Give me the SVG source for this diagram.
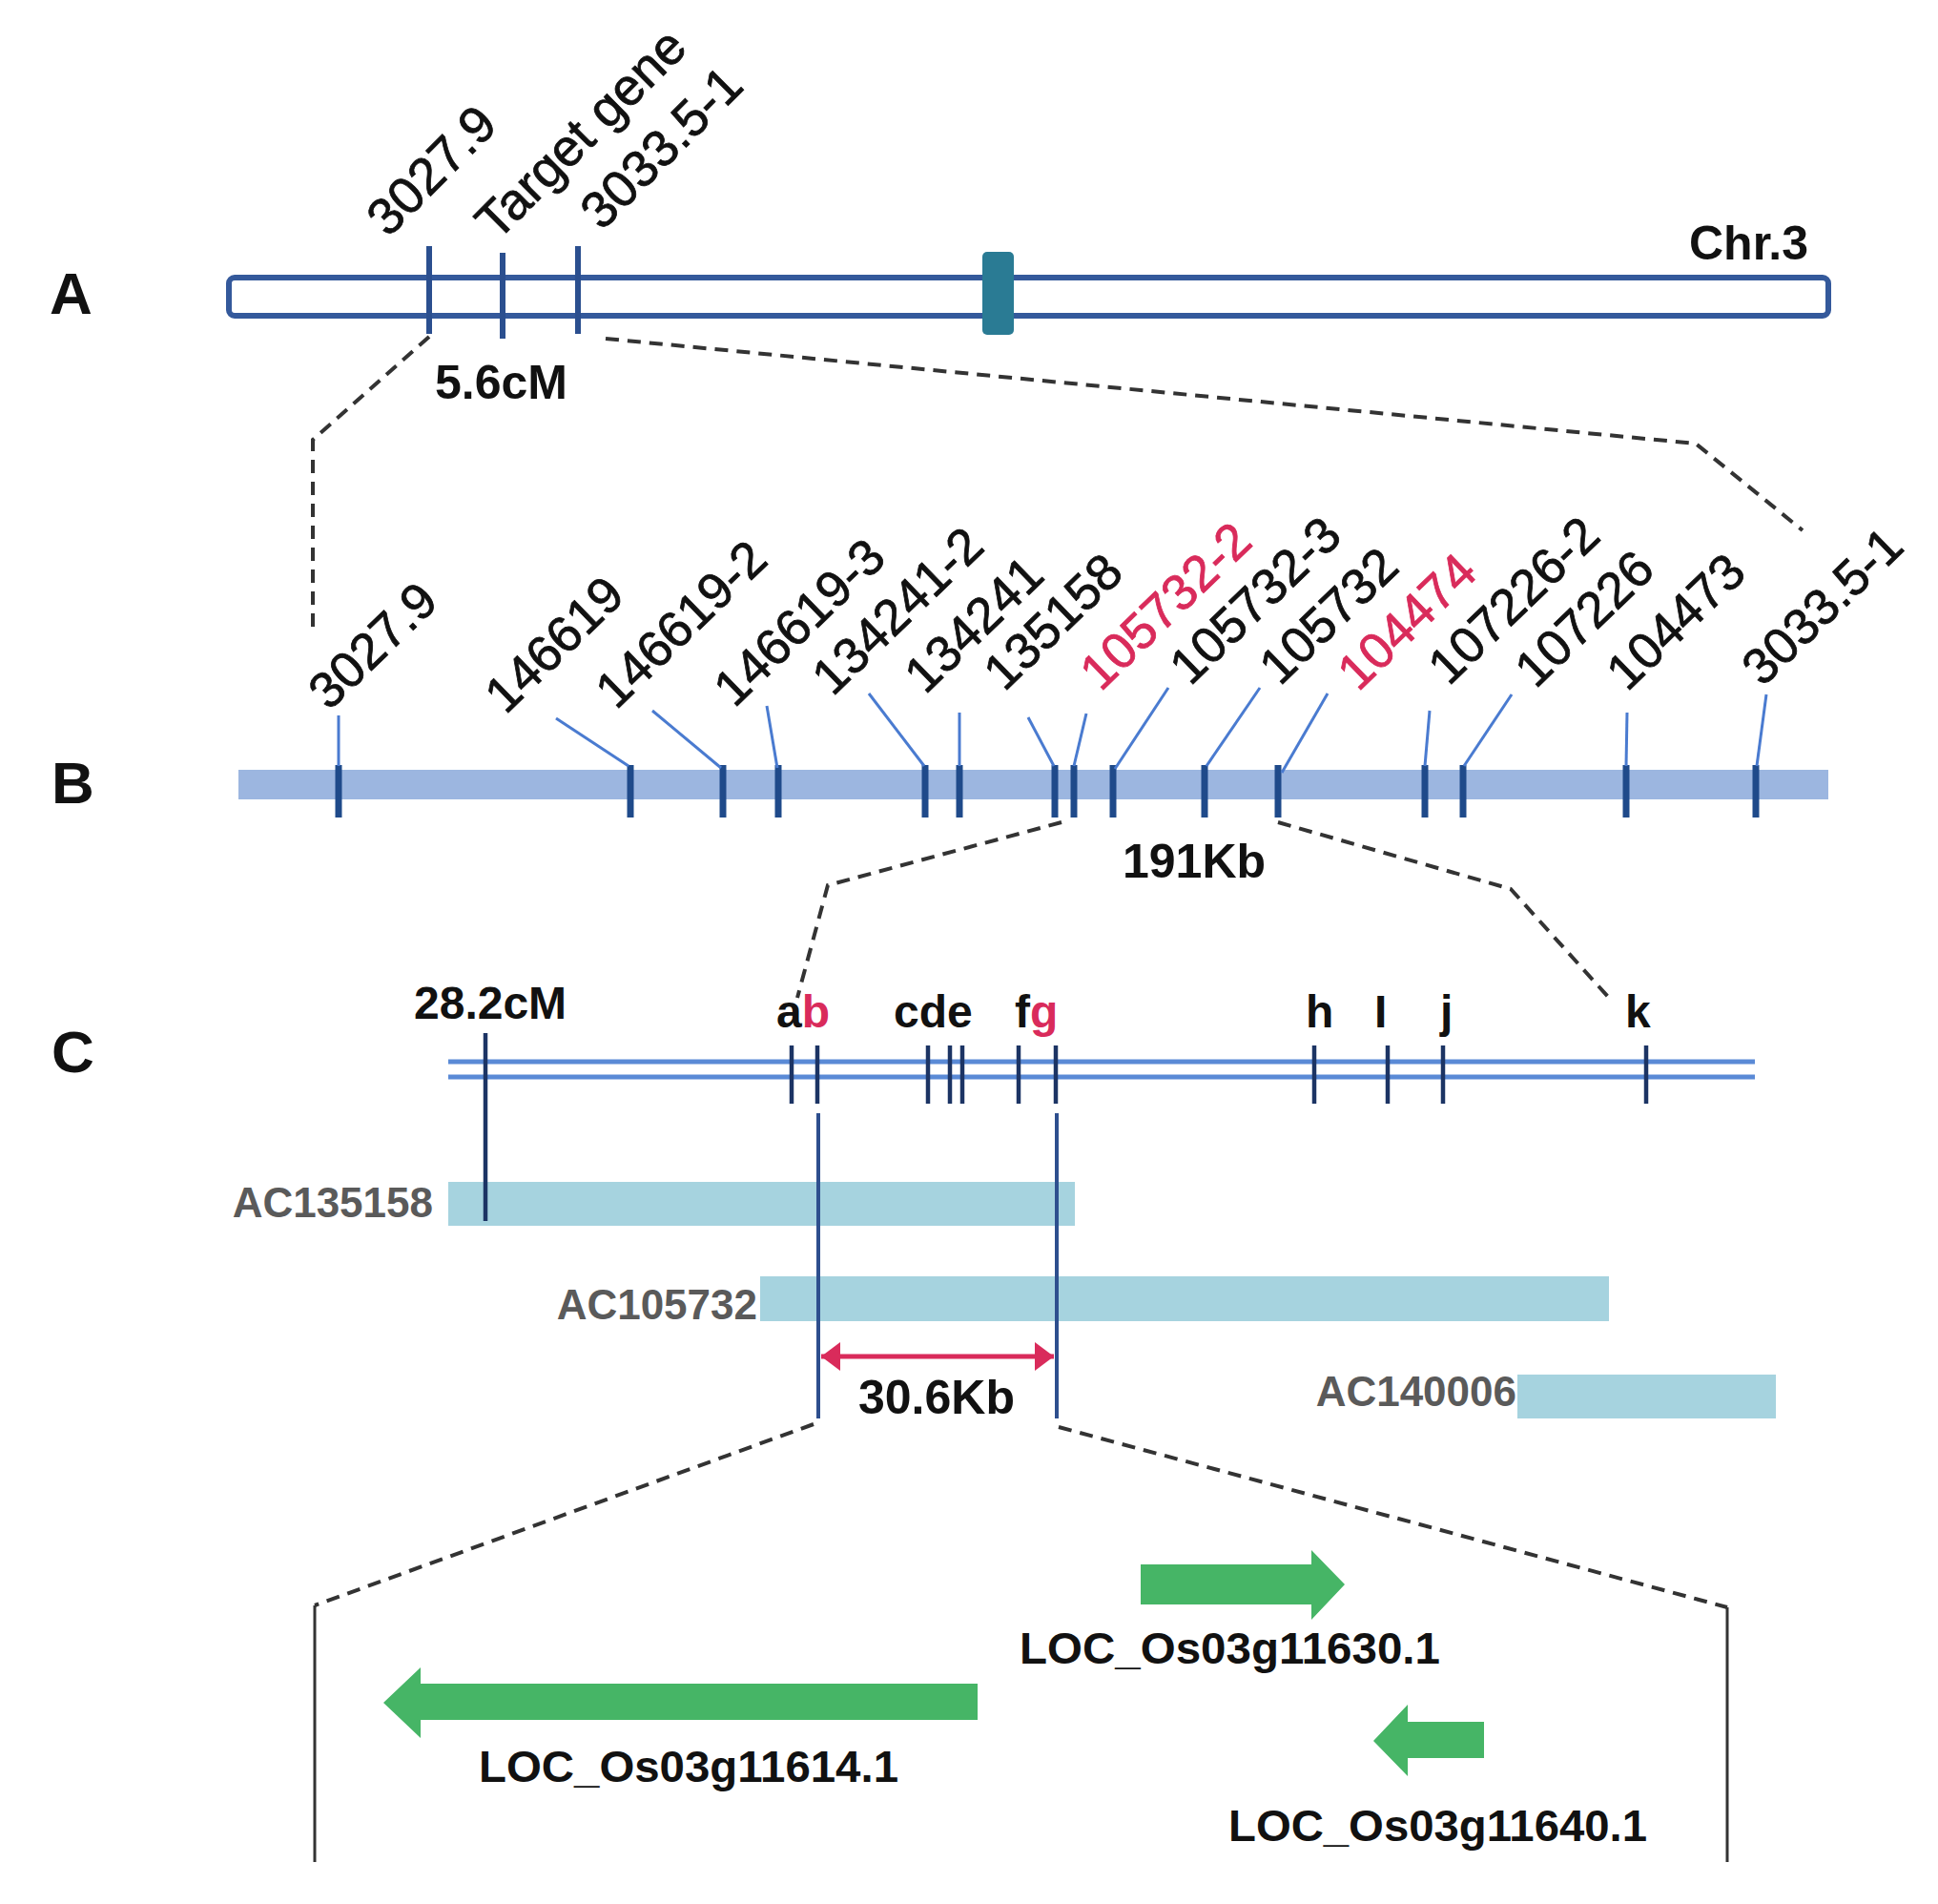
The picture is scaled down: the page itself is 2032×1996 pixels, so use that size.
<svg xmlns="http://www.w3.org/2000/svg" width="2032" height="1996" viewBox="0 0 2032 1996">
<style>
  .panel { font-family: "Liberation Sans", Arial, sans-serif; font-weight: bold; font-size: 62px; fill: #111; }
  .bold { font-family: "Liberation Sans", Arial, sans-serif; font-weight: bold; fill: #111; }
  .lab { font-family: "Liberation Sans", Arial, sans-serif; font-size: 53px; fill: #111; stroke: #111; stroke-width: 0.8; }
  .labA { font-family: "Liberation Sans", Arial, sans-serif; font-size: 54px; fill: #111; stroke: #111; stroke-width: 0.8; }
  .red { fill: #D92B5B; stroke: #D92B5B; }
  .redf { fill: #D92B5B; }
  .ac { font-family: "Liberation Sans", Arial, sans-serif; font-weight: bold; font-size: 44px; fill: #5a5a5a; text-anchor: end; }
  .loc { font-family: "Liberation Sans", Arial, sans-serif; font-weight: bold; font-size: 46px; fill: #111; }
  .dash { fill: none; stroke: #333; stroke-width: 4; stroke-dasharray: 14 9; }
  .solid { fill: none; stroke: #333; stroke-width: 3; }
  .tickA { stroke: #2B4F8F; stroke-width: 6; }
  .tickB { stroke: #1F4A8A; stroke-width: 7; }
  .leader { stroke: #4A7BD0; stroke-width: 3; fill: none; }
  .tickC { stroke: #1C3464; stroke-width: 4.5; }
  .longC { stroke: #2E4F8E; stroke-width: 4; }
  .cline { stroke: #5A8AD6; stroke-width: 5; }
  .acbar { fill: #A6D3DF; }
  .gene { fill: #46B566; }
</style>
<defs>
  <marker id="redhead" viewBox="0 0 4 6" refX="4" refY="3" markerWidth="4" markerHeight="6" markerUnits="strokeWidth" orient="auto-start-reverse">
    <path d="M0,0 L4,3 L0,6 Z" fill="#D92B5B"/>
  </marker>
</defs>
<rect width="2032" height="1996" fill="#fff"/>

<!-- Panel A -->
<g id="panelA">
  <text class="panel" x="52" y="329">A</text>
  <rect id="chr3" x="240" y="291" width="1677" height="40" rx="6" fill="#fff" stroke="#34599B" stroke-width="6"/>
  <rect id="centromere" x="1030" y="264" width="33" height="87" rx="5" fill="#2A7B94"/>
  <line class="tickA" x1="450" y1="258" x2="450" y2="350"/>
  <line class="tickA" x1="527" y1="265" x2="527" y2="355"/>
  <line class="tickA" x1="606" y1="258" x2="606" y2="350"/>
  <text class="labA" transform="translate(407,250) rotate(-45)">3027.9</text>
  <text class="labA" transform="translate(521,254) rotate(-45)">Target gene</text>
  <text class="labA" transform="translate(631,243) rotate(-45)">3033.5-1</text>
  <text class="bold" x="1771" y="272" font-size="50">Chr.3</text>
  <text class="bold" x="456" y="418" font-size="50">5.6cM</text>
</g>

<!-- Panel B -->
<g id="panelB">
  <text class="panel" x="54" y="842">B</text>
  <rect id="barB" x="250" y="807" width="1667" height="31" fill="#9CB6E0"/>
  <g id="ticksB">
    <line class="tickB" x1="355" y1="802" x2="355" y2="857"/>
    <line class="tickB" x1="661" y1="802" x2="661" y2="857"/>
    <line class="tickB" x1="758" y1="802" x2="758" y2="857"/>
    <line class="tickB" x1="816" y1="802" x2="816" y2="857"/>
    <line class="tickB" x1="970" y1="802" x2="970" y2="857"/>
    <line class="tickB" x1="1006" y1="802" x2="1006" y2="857"/>
    <line class="tickB" x1="1106" y1="802" x2="1106" y2="857"/>
    <line class="tickB" x1="1126" y1="802" x2="1126" y2="857"/>
    <line class="tickB" x1="1167" y1="802" x2="1167" y2="857"/>
    <line class="tickB" x1="1263" y1="802" x2="1263" y2="857"/>
    <line class="tickB" x1="1340" y1="802" x2="1340" y2="857"/>
    <line class="tickB" x1="1494" y1="802" x2="1494" y2="857"/>
    <line class="tickB" x1="1534" y1="802" x2="1534" y2="857"/>
    <line class="tickB" x1="1705" y1="802" x2="1705" y2="857"/>
    <line class="tickB" x1="1841" y1="802" x2="1841" y2="857"/>
  </g>
  <g id="labelsB">
    <text class="lab" transform="translate(345,746) rotate(-44)">3027.9</text>
    <text class="lab" transform="translate(530,750) rotate(-44)">146619</text>
    <text class="lab" transform="translate(646,745) rotate(-44)">146619-2</text>
    <text class="lab" transform="translate(770,743) rotate(-44)">146619-3</text>
    <text class="lab" transform="translate(873,731) rotate(-44)">134241-2</text>
    <text class="lab" transform="translate(970,729) rotate(-44)">134241</text>
    <text class="lab" transform="translate(1053,726) rotate(-44)">135158</text>
    <text class="lab red" transform="translate(1154,726) rotate(-44)">105732-2</text>
    <text class="lab" transform="translate(1248,720) rotate(-44)">105732-3</text>
    <text class="lab" transform="translate(1342,720) rotate(-44)">105732</text>
    <text class="lab red" transform="translate(1424,726) rotate(-44)">104474</text>
    <text class="lab" transform="translate(1519,720) rotate(-44)">107226-2</text>
    <text class="lab" transform="translate(1610,723) rotate(-44)">107226</text>
    <text class="lab" transform="translate(1706,726) rotate(-44)">104473</text>
    <text class="lab" transform="translate(1848,721) rotate(-44)">3033.5-1</text>
  </g>
  <text class="bold" x="1177" y="920" font-size="50">191Kb</text>
</g>

<!-- Panel C -->
<g id="panelC">
  <text class="panel" x="54" y="1124">C</text>
  <line class="cline" x1="470" y1="1113" x2="1840" y2="1113"/>
  <line class="cline" x1="470" y1="1129" x2="1840" y2="1129"/>
  <rect id="AC135158" class="acbar" x="470" y="1239" width="657" height="46"/>
  <rect id="AC105732" class="acbar" x="797" y="1338" width="890" height="47"/>
  <rect id="AC140006" class="acbar" x="1591" y="1441" width="271" height="46"/>
  <text class="ac" x="454" y="1276">AC135158</text>
  <text class="ac" x="794" y="1383">AC105732</text>
  <text class="ac" x="1590" y="1474">AC140006</text>
  <line class="tickC" x1="509" y1="1083" x2="509" y2="1280"/>
  <line class="tickC" x1="830" y1="1096" x2="830" y2="1157"/>
  <line class="tickC" x1="857" y1="1096" x2="857" y2="1157"/>
  <line class="tickC" x1="973" y1="1096" x2="973" y2="1157"/>
  <line class="tickC" x1="996" y1="1096" x2="996" y2="1157"/>
  <line class="tickC" x1="1009" y1="1096" x2="1009" y2="1157"/>
  <line class="tickC" x1="1068" y1="1096" x2="1068" y2="1157"/>
  <line class="tickC" x1="1107" y1="1096" x2="1107" y2="1157"/>
  <line class="tickC" x1="1378" y1="1096" x2="1378" y2="1157"/>
  <line class="tickC" x1="1455" y1="1096" x2="1455" y2="1157"/>
  <line class="tickC" x1="1513" y1="1096" x2="1513" y2="1157"/>
  <line class="tickC" x1="1726" y1="1096" x2="1726" y2="1157"/>
  <line class="longC" x1="858" y1="1167" x2="858" y2="1487"/>
  <line class="longC" x1="1108" y1="1167" x2="1108" y2="1487"/>
  <text class="bold" x="434" y="1068" font-size="48">28.2cM</text>
  <text class="bold" x="814" y="1077" font-size="48">a<tspan class="redf">b</tspan></text>
  <text class="bold" x="937" y="1077" font-size="48">cde</text>
  <text class="bold" x="1064" y="1077" font-size="48">f<tspan class="redf">g</tspan></text>
  <text class="bold" x="1369" y="1077" font-size="48">h</text>
  <text class="bold" x="1441" y="1077" font-size="48">I</text>
  <text class="bold" x="1510" y="1077" font-size="48">j</text>
  <text class="bold" x="1704" y="1077" font-size="48">k</text>
  <line id="span306" x1="861" y1="1422" x2="1105" y2="1422" stroke="#D92B5B" stroke-width="5" marker-start="url(#redhead)" marker-end="url(#redhead)"/>
  <text class="bold" x="900" y="1482" font-size="50">30.6Kb</text>
</g>

<!-- Genes -->
<g id="genes">
  <g id="LOC_Os03g11614">
    <polygon class="gene" points="402,1785 441,1748 441,1765 1025,1765 1025,1803 441,1803 441,1822"/>
    <text class="loc" x="502" y="1868" textLength="440" lengthAdjust="spacingAndGlyphs">LOC_Os03g11614.1</text>
  </g>
  <g id="LOC_Os03g11630">
    <polygon class="gene" points="1410,1661 1375,1625 1375,1640 1196,1640 1196,1682 1375,1682 1375,1698"/>
    <text class="loc" x="1069" y="1744" textLength="441" lengthAdjust="spacingAndGlyphs">LOC_Os03g11630.1</text>
  </g>
  <g id="LOC_Os03g11640">
    <polygon class="gene" points="1440,1825 1476,1787 1476,1805 1556,1805 1556,1843 1476,1843 1476,1862"/>
    <text class="loc" x="1288" y="1930" textLength="439" lengthAdjust="spacingAndGlyphs">LOC_Os03g11640.1</text>
  </g>
</g>

<!-- Connectors -->
<g id="connectors">
  <path class="dash" d="M450,353 L328,461 L328,658"/>
  <path class="dash" d="M635,355 L1778,465 L1890,556"/>
  <path class="dash" d="M1113,862 L868,928 L836,1046"/>
  <path class="dash" d="M1340,862 L1584,932 L1687,1046"/>
  <path class="dash" d="M853,1493 L330,1683"/>
  <path class="dash" d="M1110,1496 L1811,1685"/>
  <path class="solid" d="M330,1683 L330,1952"/>
  <path class="solid" d="M1811,1685 L1811,1952"/>
  <g id="leadersB">
    <line class="leader" x1="355" y1="750" x2="355" y2="803"/>
    <line class="leader" x1="583" y1="753" x2="659" y2="803"/>
    <line class="leader" x1="684" y1="745" x2="756" y2="805"/>
    <line class="leader" x1="804" y1="740" x2="815" y2="805"/>
    <line class="leader" x1="911" y1="727" x2="969" y2="803"/>
    <line class="leader" x1="1006" y1="747" x2="1006" y2="803"/>
    <line class="leader" x1="1078" y1="752" x2="1105" y2="803"/>
    <line class="leader" x1="1139" y1="748" x2="1126" y2="803"/>
    <line class="leader" x1="1225" y1="721" x2="1169" y2="806"/>
    <line class="leader" x1="1321" y1="721" x2="1265" y2="803"/>
    <line class="leader" x1="1392" y1="727" x2="1344" y2="810"/>
    <line class="leader" x1="1499" y1="745" x2="1494" y2="803"/>
    <line class="leader" x1="1585" y1="728" x2="1535" y2="803"/>
    <line class="leader" x1="1706" y1="747" x2="1705" y2="803"/>
    <line class="leader" x1="1852" y1="728" x2="1842" y2="803"/>
  </g>
</g>
</svg>
